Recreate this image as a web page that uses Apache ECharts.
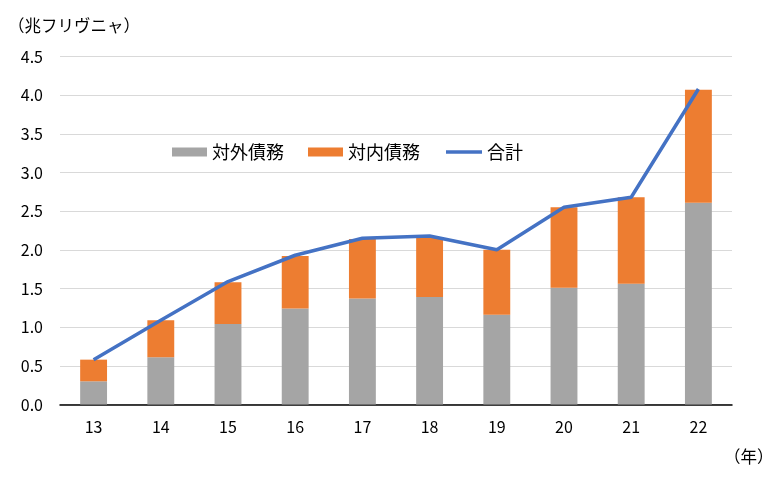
<!DOCTYPE html>
<html><head><meta charset="utf-8">
<script src="https://cdn.jsdelivr.net/npm/echarts@6/dist/echarts.min.js"></script>
<style>html,body{margin:0;padding:0;background:#fff}#c{width:782px;height:484px}</style>
</head><body><div id="c"></div>
<script>
const categories = ['13','14','15','16','17','18','19','20','21','22'];
const external = [0.30,0.61,1.04,1.24,1.37,1.39,1.16,1.51,1.56,2.61];
const domestic = [0.28,0.48,0.54,0.68,0.77,0.77,0.84,1.04,1.12,1.46];
const total = [0.58,1.09,1.59,1.93,2.15,2.18,2.00,2.55,2.68,4.08];
const yTicks = ['0.0','0.5','1.0','1.5','2.0','2.5','3.0','3.5','4.0','4.5'];
const FONT = '"Noto Sans CJK JP", "Noto Sans", sans-serif';
const chart = echarts.init(document.getElementById('c'));
const legendText = {fontSize:18,color:'#000',fontFamily:FONT};
chart.setOption({
  animation:false,
  textStyle:{fontFamily:FONT},
  grid:{left:60,right:50,top:56.5,bottom:79.5},
  graphic:[
    {type:'text',left:8,top:17,style:{text:'（兆フリヴニャ）',font:'16.5px '+FONT,fill:'#000'}},
    {type:'text',left:724,top:448,style:{text:'（年）',font:'16.5px '+FONT,fill:'#000'}}
  ],
  legend:[{
    left:172,top:143,padding:0,itemWidth:35,itemHeight:9,itemGap:24,
    textStyle:legendText,
    data:[{name:'対外債務',icon:'rect'},{name:'対内債務',icon:'rect'}]
  },{
    left:446,top:143,padding:0,itemWidth:36,itemHeight:3.5,
    textStyle:legendText,
    data:[{name:'合計',icon:'rect'}]
  }],
  xAxis:{
    type:'category',data:categories,
    axisLine:{lineStyle:{color:'#000',width:1.5}},
    axisTick:{inside:true,length:5,lineStyle:{color:'#000'}},
    axisLabel:{fontSize:16,color:'#000',margin:14,fontFamily:FONT}
  },
  yAxis:{
    type:'value',min:0,max:4.5,interval:0.5,
    axisLine:{show:false},axisTick:{show:false},
    splitLine:{lineStyle:{color:'#d9d9d9',width:1}},
    axisLabel:{fontSize:16,color:'#000',margin:17,fontFamily:FONT,
      formatter:(v)=>yTicks[Math.round(v/0.5)]}
  },
  series:[
    {name:'対外債務',type:'bar',stack:'a',data:external,barWidth:'40%',itemStyle:{color:'#A5A5A5'}},
    {name:'対内債務',type:'bar',stack:'a',data:domestic,barWidth:'40%',itemStyle:{color:'#ED7D31'}},
    {name:'合計',type:'line',data:total,symbol:'none',z:5,
      lineStyle:{color:'#4472C4',width:3.5},itemStyle:{color:'#4472C4'}}
  ]
});
</script></body></html>
